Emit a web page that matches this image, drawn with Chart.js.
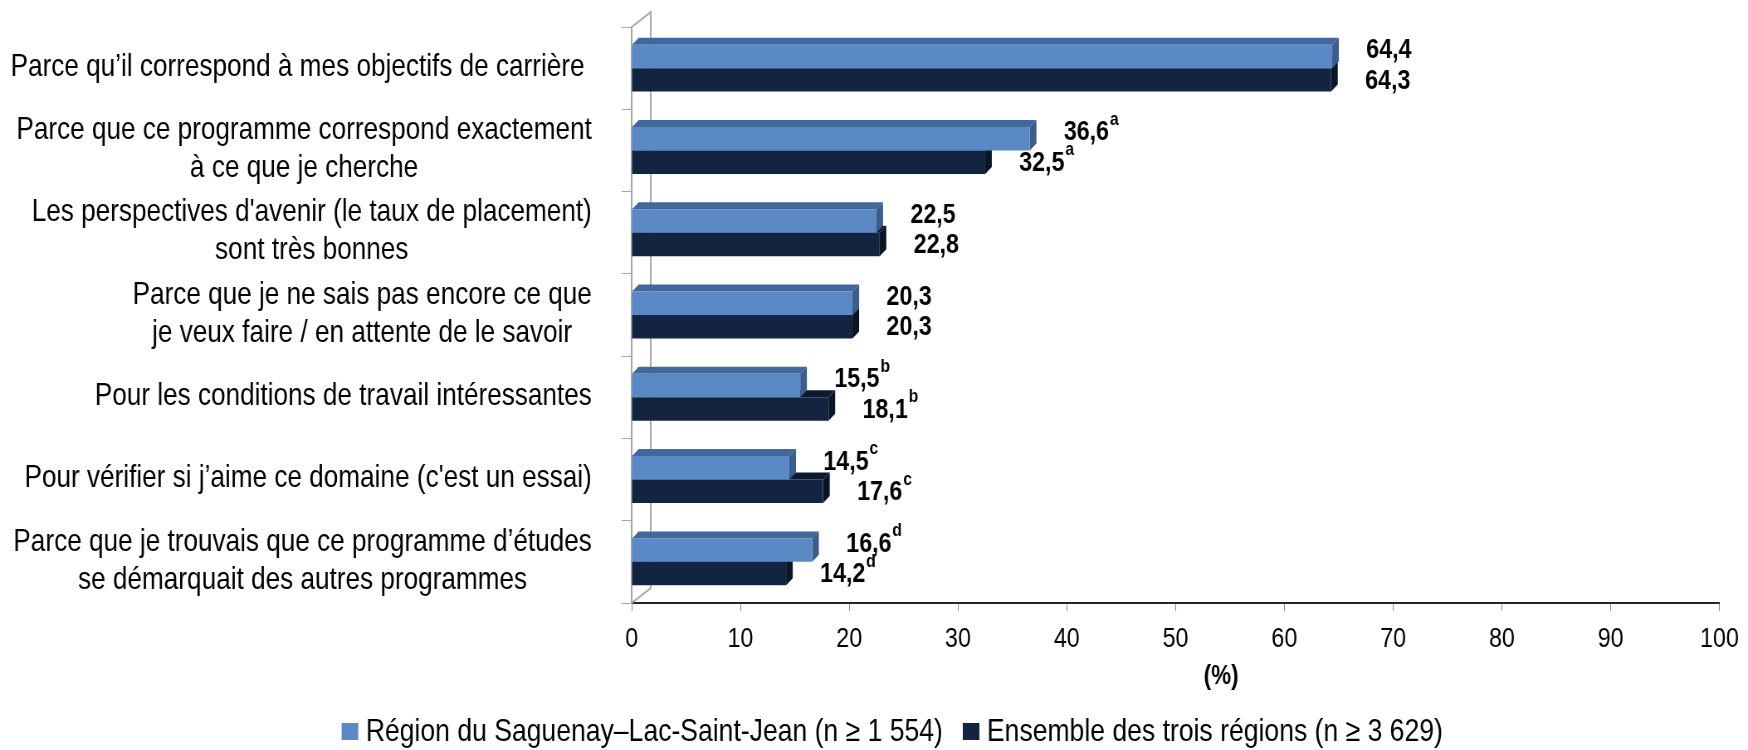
<!DOCTYPE html>
<html>
<head>
<meta charset="utf-8">
<script src="https://cdn.jsdelivr.net/npm/chart.js@4.4.1/dist/chart.umd.min.js"></script>
<style>
  html, body { margin: 0; padding: 0; background: #fff; overflow: hidden; }
  /* the reference type is tall and narrow: draw wide, then squeeze horizontally */
  #wrap { width: 2106px; height: 750px; transform: scaleX(0.83); transform-origin: 0 0; }
</style>
</head>
<body>
<div id="wrap"><canvas id="myChart" width="2106" height="750"></canvas></div>
<script>
const categories = [
  ['Parce qu’il correspond à mes objectifs de carrière '],
  ['Parce que ce programme correspond exactement', 'à ce que je cherche'],
  ["Les perspectives d'avenir (le taux de placement)", 'sont très bonnes'],
  ['Parce que je ne sais pas encore ce que', 'je veux faire / en attente de le savoir'],
  ['Pour les conditions de travail intéressantes'],
  ["Pour vérifier si j’aime ce domaine (c'est un essai)"],
  ['Parce que je trouvais que ce programme d’études', 'se démarquait des autres programmes']
];
const saguenay = [64.4, 36.6, 22.5, 20.3, 15.5, 14.5, 16.6];
const ensemble = [64.3, 32.5, 22.8, 20.3, 18.1, 17.6, 14.2];
const notes = ['', 'a', '', '', 'b', 'c', 'd'];
const seriesNames = ['Région du Saguenay–Lac-Saint-Jean (n ≥ 1 554)', 'Ensemble des trois régions (n ≥ 3 629)'];
const axisTitle = '(%)';

const FONT = '"Liberation Sans", Arial, sans-serif';
const depthX = 8, depthY = 7;
const wall = { dx: 23, dy: 15 };
const faces = [
  { top: '#41679b', side: '#3b5d8c' },
  { top: '#0c1a2f', side: '#0a1526' }
];
const fmt = v => v.toFixed(1).replace('.', ',');

const bars3d = {
  id: 'bars3d',
  beforeDatasetsDraw(chart) {
    const { ctx, chartArea: a } = chart;
    ctx.save();
    ctx.strokeStyle = '#a6a6a6';
    ctx.lineWidth = 2;
    ctx.beginPath();
    ctx.moveTo(a.left, a.top);
    ctx.lineTo(a.left + wall.dx, a.top - wall.dy);
    ctx.lineTo(a.left + wall.dx, a.bottom - wall.dy);
    ctx.lineTo(a.left, a.bottom);
    ctx.stroke();
    ctx.restore();
  },
  beforeDatasetDraw(chart, args) {
    const ctx = chart.ctx;
    const shade = faces[args.index];
    ctx.save();
    chart.getDatasetMeta(args.index).data.forEach(bar => {
      const { x, y, base, height } = bar.getProps(['x', 'y', 'base', 'height'], true);
      const top = y - height / 2, bottom = y + height / 2;
      ctx.fillStyle = shade.top;
      ctx.beginPath();
      ctx.moveTo(base, top);
      ctx.lineTo(base + depthX, top - depthY);
      ctx.lineTo(x + depthX, top - depthY);
      ctx.lineTo(x, top);
      ctx.closePath();
      ctx.fill();
      ctx.fillStyle = shade.side;
      ctx.beginPath();
      ctx.moveTo(x, top);
      ctx.lineTo(x + depthX, top - depthY);
      ctx.lineTo(x + depthX, bottom - depthY);
      ctx.lineTo(x, bottom);
      ctx.closePath();
      ctx.fill();
    });
    ctx.restore();
  },
  afterDatasetsDraw(chart) {
    const { ctx, chartArea: a } = chart;
    const yScale = chart.scales.y;
    ctx.save();
    ctx.fillStyle = '#000';

    // value labels with superscript letters
    ctx.textBaseline = 'middle';
    ctx.textAlign = 'left';
    chart.data.datasets.forEach((ds, di) => {
      chart.getDatasetMeta(di).data.forEach((bar, i) => {
        const tx = bar.x + 41;
        const ty = bar.y + (di === 0 ? -6 : 1);
        const txt = fmt(ds.data[i]);
        ctx.font = `bold 28px ${FONT}`;
        ctx.fillText(txt, tx, ty);
        if (notes[i]) {
          const w = ctx.measureText(txt).width;
          ctx.font = `bold 19px ${FONT}`;
          ctx.fillText(notes[i], tx + w + 1, ty - 13);
        }
      });
    });

    // category labels: block right-aligned, lines centered
    ctx.font = `31.5px ${FONT}`;
    ctx.textAlign = 'center';
    const right = a.left - 48;
    const lineH = 38;
    categories.forEach((lines, i) => {
      const w = Math.max(...lines.map(l => ctx.measureText(l).width));
      const cx = right - w / 2;
      const cy = yScale.getPixelForValue(i) - 1;
      lines.forEach((l, k) => {
        ctx.fillText(l, cx, cy + (k - (lines.length - 1) / 2) * lineH);
      });
    });

    // axis title
    ctx.font = `bold 27px ${FONT}`;
    ctx.fillText(axisTitle, (a.left + a.right) / 2 + 55, a.bottom + 74);
    ctx.restore();
  },
  afterDraw(chart) {
    // legend: small square, tight gap, then text
    const ctx = chart.ctx;
    ctx.save();
    ctx.font = `32px ${FONT}`;
    ctx.textBaseline = 'middle';
    ctx.textAlign = 'left';
    const box = 20, gap = 9, sep = 24;
    const items = chart.data.datasets.map(ds => ({
      text: ds.label, color: ds.backgroundColor, w: ctx.measureText(ds.label).width
    }));
    const total = items.reduce((s, it) => s + box + gap + it.w, 0) + sep * (items.length - 1);
    let x = chart.width / 2 + 22 - total / 2;
    const cy = chart.height - 18;
    items.forEach(it => {
      ctx.fillStyle = it.color;
      ctx.fillRect(x, cy - 9, box, 17);
      ctx.fillStyle = '#000';
      ctx.fillText(it.text, x + box + gap, cy);
      x += box + gap + it.w + sep;
    });
    ctx.restore();
  }
};

const canvas = document.getElementById('myChart');
new Chart(canvas.getContext('2d'), {
  type: 'bar',
  data: {
    labels: categories,
    datasets: [
      { label: seriesNames[0], data: saguenay, backgroundColor: '#5b89c5' },
      { label: seriesNames[1], data: ensemble, backgroundColor: '#12243f' }
    ]
  },
  options: {
    indexAxis: 'y',
    responsive: false,
    animation: false,
    devicePixelRatio: 1,
    layout: { padding: { top: 27, right: 25, left: 0, bottom: 57 } },
    datasets: { bar: { categoryPercentage: 0.57, barPercentage: 1 } },
    scales: {
      x: {
        min: 0,
        max: 100,
        ticks: { stepSize: 10, color: '#000', padding: 11, font: { family: FONT, size: 28 } },
        grid: { drawOnChartArea: false, drawTicks: true, tickLength: 8, color: '#8c8c8c' },
        border: { color: '#262626', width: 2 },
        afterFit(scale) { scale.height = 90; }
      },
      y: {
        ticks: { display: false },
        grid: { drawOnChartArea: false, drawTicks: true, tickLength: 12, color: '#a6a6a6', offset: true },
        border: { color: '#a6a6a6', width: 2 },
        afterFit(scale) { scale.width = 761; }
      }
    },
    plugins: {
      legend: { display: false },
      tooltip: { enabled: false }
    }
  },
  plugins: [bars3d]
});
</script>
</body>
</html>
